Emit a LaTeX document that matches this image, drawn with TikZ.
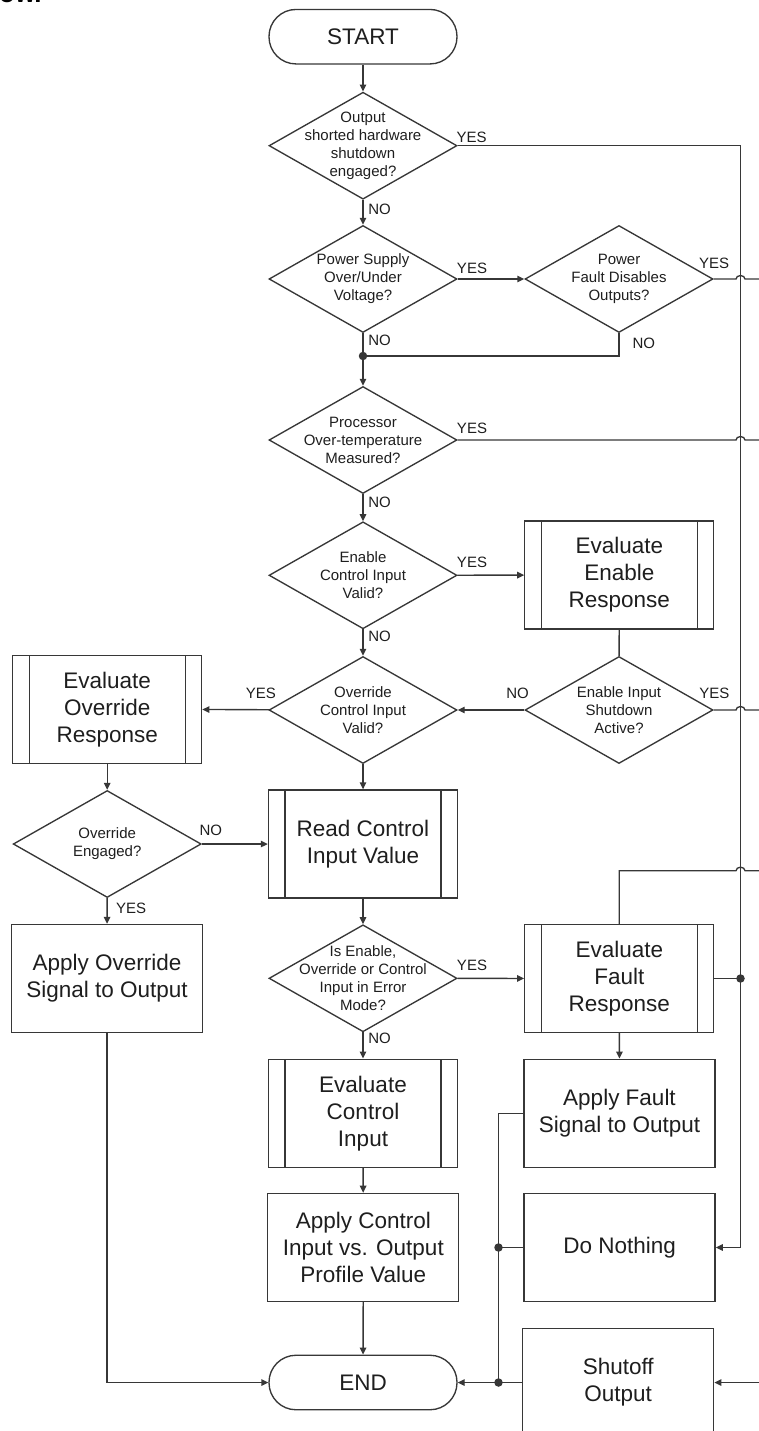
\documentclass[tikz,border=0pt]{standalone}
\usepackage{fontspec}
\setmainfont{Liberation Sans}
\usetikzlibrary{shapes.geometric,arrows.meta,calc}
\definecolor{ln}{RGB}{55,55,55}
\definecolor{tx}{RGB}{30,30,30}
\begin{document}
\begin{tikzpicture}[x=1pt,y=-1pt,
  conn/.style={draw=ln, line width=1.35pt},
  arr/.style={conn, -{Triangle[length=7pt,width=6.5pt]}},
  dec/.style={diamond, draw=ln, line width=1.35pt, minimum width=188pt, minimum height=107pt, inner sep=0pt},
  dtxt/.style={text=tx, align=center, font=\fontsize{15}{18}\selectfont, inner sep=0pt},
  proc/.style={rectangle, draw=ln, line width=1.35pt, minimum width=191pt, minimum height=108pt, inner sep=0pt, text=tx, align=center, font=\fontsize{22.5}{27}\selectfont},
  pred/.style={proc, minimum width=189pt, path picture={
     \draw[ln,line width=1.35pt]
       ([xshift=16.5pt]path picture bounding box.north west) -- ([xshift=16.5pt]path picture bounding box.south west)
       ([xshift=-16.5pt]path picture bounding box.north east) -- ([xshift=-16.5pt]path picture bounding box.south east);}},
  term/.style={rectangle, rounded corners=27pt, draw=ln, line width=1.35pt, minimum width=188pt, minimum height=54.5pt, inner sep=0pt, text=tx, font=\fontsize{22.5}{27}\selectfont},
  lbl/.style={text=tx, font=\fontsize{15}{18}\selectfont, inner sep=0pt},
  jdot/.style={circle, fill=ln, minimum size=8.5pt, inner sep=0pt}
]
\useasboundingbox (0,0) rectangle (759,1431);

% fragment of title cut by the crop
\node[anchor=base west, inner sep=0pt, text=black, font=\bfseries\fontsize{26}{30}\selectfont] (frag) at (-1,3) {ow.};

% terminals
\node[term] (start) at (363,36.7) {START};
\node[term] (end) at (363,1382.5) {END};

% decisions
\node[dec] (d1) at (363,145.7) {};
\node[dtxt] (d1t) at (d1) {Output\\shorted hardware\\shutdown\\engaged?};
\node[dec] (d2) at (363,279) {};
\node[dtxt] (d2t) at (d2) {Power Supply\\Over/Under\\Voltage?};
\node[dec] (d3) at (619,279) {};
\node[dtxt] (d3t) at (d3) {Power\\Fault Disables\\Outputs?};
\node[dec] (d4) at (363,440) {};
\node[dtxt] (d4t) at (d4) {Processor\\Over-temperature\\Measured?};
\node[dec] (d5) at (363,575.3) {};
\node[dtxt] (d5t) at (d5) {Enable\\Control Input\\Valid?};
\node[dec] (d6) at (363,710) {};
\node[dtxt] (d6t) at (d6) {Override\\Control Input\\Valid?};
\node[dec] (d7) at (619,710) {};
\node[dtxt] (d7t) at (d7) {Enable Input\\Shutdown\\Active?};
\node[dec] (d8) at (107.2,844) {};
\node[dtxt] (d8t) at (d8) {Override\\Engaged?};
\node[dec] (d9) at (363,978.3) {};
\node[dtxt] (d9t) at (d9) {Is Enable,\\Override or Control\\Input in Error\\Mode?};

% predefined processes
\node[pred] (pre1) at (619.3,575) {Evaluate\\Enable\\Response};
\node[pred] (pre2) at (107.2,709.2) {Evaluate\\Override\\Response};
\node[pred] (pre3) at (363,844) {Read Control\\Input Value};
\node[pred] (pre4) at (619.3,978.5) {Evaluate\\Fault\\Response};
\node[pred] (pre5) at (363,1113.2) {Evaluate\\Control\\Input};

% processes
\node[proc] (box1) at (107,978.5) {Apply Override\\Signal to Output};
\node[proc] (box2) at (619.5,1113.2) {Apply Fault\\Signal to Output};
\node[proc] (box3) at (363.3,1247.4) {Apply Control\\Input vs. Output\\Profile Value};
\node[proc] (box4) at (619.6,1247.5) {Do Nothing};
\node[proc] (box5) at (618.2,1382.5) {Shutoff\\Output};

% helper coordinates
\coordinate (rv) at (740.5,0);
\coordinate (lv) at (498.5,0);
\coordinate (edge) at (775,0);
\coordinate (fb) at (0,870.7);
\coordinate (j1) at (363,356);
\coordinate (j2) at (rv |- pre4.east);
\coordinate (j3) at (lv |- box4.west);
\coordinate (j4) at (lv |- end.east);

% connectors
\draw[arr] (start) -- (d1);
\draw[arr] (d1) -- (d2);
\draw[arr] (d1.east) -- (d1.east -| rv) -- (rv |- box4.east) -- (box4.east);
\draw[arr] (d2) -- (d3);
\draw[arr] (d2) -- (d4);
\draw[conn] (d3.south) |- (j1);
\draw[conn] (d3.east) -- ($(d3.east -| rv)+(-4.5,0)$) arc[start angle=180,end angle=0,x radius=4.5pt,y radius=3.5pt] -- (d3.east -| edge);
\draw[conn] (d4.east) -- ($(d4.east -| rv)+(-4.5,0)$) arc[start angle=180,end angle=0,x radius=4.5pt,y radius=3.5pt] -- (d4.east -| edge);
\draw[arr] (d4) -- (d5);
\draw[arr] (d5) -- (pre1);
\draw[arr] (d5) -- (d6);
\draw[conn] (pre1) -- (d7);
\draw[arr] (d7) -- (d6);
\draw[conn] (d7.east) -- ($(d7.east -| rv)+(-4.5,0)$) arc[start angle=180,end angle=0,x radius=4.5pt,y radius=3.5pt] -- (d7.east -| edge);
\draw[arr] (d6) -- (pre2);
\draw[arr] (d6) -- (pre3);
\draw[arr] (pre2) -- (d8);
\draw[arr] (d8) -- (pre3);
\draw[arr] (d8) -- (box1);
\draw[arr] (pre3) -- (d9);
\draw[arr] (d9) -- (pre4);
\draw[arr] (d9) -- (pre5);
\draw[conn] (pre4.north) -- (pre4.north |- fb) -- ($(rv |- fb)+(-4.5,0)$) arc[start angle=180,end angle=0,x radius=4.5pt,y radius=3.5pt] -- (edge |- fb);
\draw[conn] (pre4.east) -- (j2);
\draw[arr] (pre4) -- (box2);
\draw[arr] (pre5) -- (box3);
\draw[arr] (box3) -- (end);
\draw[conn] (box2.west) -| (j4);
\draw[conn] (box4.west) -- (j3);
\draw[conn] (box5.west) -- (j4);
\draw[arr] (j4) -- (end.east);
\draw[arr] (edge |- box5.east) -- (box5.east);
\draw[arr] (box1.south) |- (end.west);

% junction dots
\node[jdot] (j1d) at (j1) {};
\node[jdot] (j2d) at (j2) {};
\node[jdot] (j3d) at (j3) {};
\node[jdot] (j4d) at (j4) {};

% labels
\node[lbl] (l1y) at (471.7,137) {YES};
\node[lbl] (l1n) at (379.5,209.3) {NO};
\node[lbl] (l2y) at (472,268.3) {YES};
\node[lbl] (l2n) at (379.5,340) {NO};
\node[lbl] (l3y) at (714,263.3) {YES};
\node[lbl] (l3n) at (643.8,343.3) {NO};
\node[lbl] (l4y) at (472,428.3) {YES};
\node[lbl] (l4n) at (379.5,502.7) {NO};
\node[lbl] (l5y) at (472,562.7) {YES};
\node[lbl] (l5n) at (379.5,636.7) {NO};
\node[lbl] (l6y) at (260.8,693.3) {YES};
\node[lbl] (l7n) at (517.5,693.5) {NO};
\node[lbl] (l7y) at (714.3,693.5) {YES};
\node[lbl] (l8n) at (210.8,830.7) {NO};
\node[lbl] (l8y) at (131.2,908) {YES};
\node[lbl] (l9y) at (472,965) {YES};
\node[lbl] (l9n) at (379.5,1038) {NO};
\end{tikzpicture}
\end{document}
